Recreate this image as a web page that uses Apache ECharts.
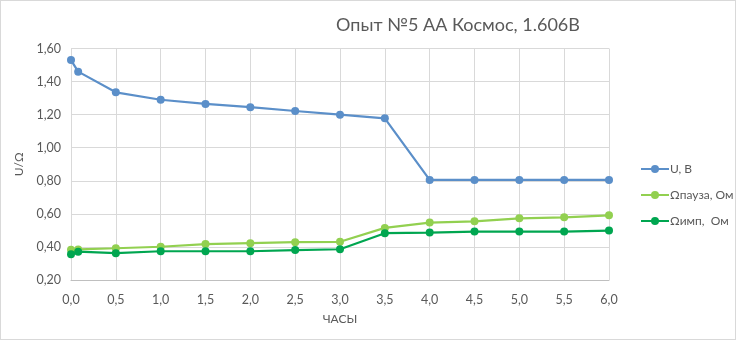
<!DOCTYPE html>
<html><head><meta charset="utf-8">
<script src="https://cdn.jsdelivr.net/npm/echarts@6/dist/echarts.min.js"></script>
<style>html,body{margin:0;padding:0;background:#fff}#c{width:736px;height:340px;box-sizing:border-box;border:1px solid #d9d9d9}</style>
</head><body><div id="c"></div>
<script>
const hours = [0, 0.08, 0.5, 1.0, 1.5, 2.0, 2.5, 3.0, 3.5, 4.0, 4.5, 5.0, 5.5, 6.0];
const uVolts = [1.53, 1.46, 1.335, 1.29, 1.265, 1.245, 1.222, 1.20, 1.178, 0.805, 0.805, 0.805, 0.805, 0.805];
const rPause = [0.383, 0.385, 0.392, 0.401, 0.417, 0.423, 0.429, 0.431, 0.515, 0.547, 0.555, 0.573, 0.579, 0.591];
const rImp = [0.356, 0.371, 0.362, 0.374, 0.374, 0.374, 0.381, 0.386, 0.483, 0.487, 0.493, 0.493, 0.493, 0.499];
const seriesNames = ['U, В', 'Ωпауза, Ом', 'Ωимп,  Ом'];
const colors = ['#5b8fc9', '#92d050', '#00a650'];
const font = 'Lato, "Open Sans", sans-serif';
const pair = arr => hours.map((h, i) => [h, arr[i]]);
const chart = echarts.init(document.getElementById('c'), null, {renderer: 'canvas'});
const mk = (name, data, color) => ({
  name, type: 'line', data: pair(data), symbol: 'circle', symbolSize: 8,
  itemStyle: {color}, lineStyle: {color, width: 2.2}, z: 3
});
chart.setOption({
  animation: false,
  textStyle: {fontFamily: font},
  title: {text: 'Опыт №5 АА Космос, 1.606В', left: 452, top: 10, textAlign: 'center',
    textStyle: {fontFamily: font, fontSize: 18, fontWeight: 'normal', color: '#595959'}},
  grid: {left: 70, right: 126, top: 47.5, bottom: 59, containLabel: false},
  xAxis: {type: 'value', min: 0, max: 6, interval: 0.5,
    name: 'ЧАСЫ', nameLocation: 'middle', nameGap: 33,
    nameTextStyle: {fontFamily: font, fontSize: 12, color: '#595959'},
    axisLine: {lineStyle: {color: '#bfbfbf'}}, axisTick: {show: false},
    splitLine: {show: true, lineStyle: {color: '#d9d9d9'}},
    axisLabel: {fontSize: 12.5, color: '#595959', margin: 13, formatter: v => v.toFixed(1).replace('.', ',')}},
  yAxis: {type: 'value', min: 0.2, max: 1.6, interval: 0.2,
    name: 'U/Ω', nameLocation: 'middle', nameGap: 42, nameRotate: 90,
    nameTextStyle: {fontFamily: font, fontSize: 12, color: '#595959'},
    axisLine: {show: false}, axisTick: {show: false},
    splitLine: {lineStyle: {color: '#d9d9d9'}},
    axisLabel: {fontSize: 12.5, color: '#595959', margin: 10, formatter: v => v.toFixed(2).replace('.', ',')}},
  legend: {orient: 'vertical', left: 634, top: 157, itemGap: 14, itemWidth: 28, itemHeight: 10,
    data: seriesNames,
    textStyle: {fontFamily: font, fontSize: 12, color: '#595959', padding: [0, 0, 0, -4]}},
  series: [mk(seriesNames[0], uVolts, colors[0]), mk(seriesNames[1], rPause, colors[1]), mk(seriesNames[2], rImp, colors[2])]
});
</script></body></html>
